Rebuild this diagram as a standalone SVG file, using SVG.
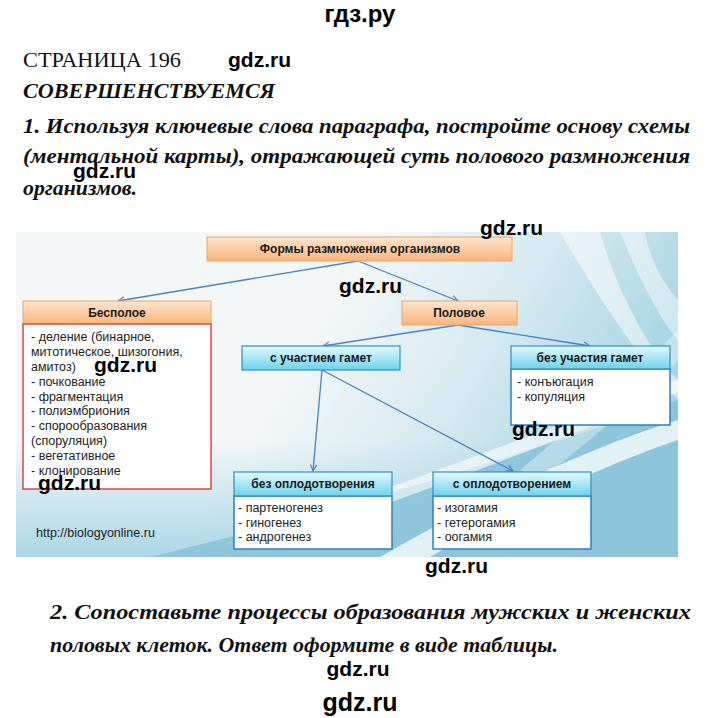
<svg xmlns="http://www.w3.org/2000/svg" width="720" height="718" viewBox="0 0 720 718">
<defs>
<style>
.ser{font-family:"Liberation Serif","Times New Roman",serif;fill:#111}
.bi{font-weight:bold;font-style:italic}
.wm{font-family:"Liberation Sans",Arial,sans-serif;font-weight:bold;fill:#000}
.hd{font-family:"Liberation Sans",Arial,sans-serif;font-weight:bold;font-size:12px;fill:#1a1a1a;text-anchor:middle}
.li{font-family:"Liberation Sans",Arial,sans-serif;font-size:12.5px;fill:#222}
.org{fill:url(#gOr);stroke:#f0a465;stroke-width:1}
.cy{fill:url(#gCy);stroke:#2f8fc0;stroke-width:1.2}
.lst{fill:#fff;stroke:#2f7fbf;stroke-width:1.5}
.red{fill:#fff;stroke:#d9534f;stroke-width:1.6}
.con{fill:none;stroke:#4a82c0;stroke-width:1.3;marker-end:url(#ar)}
</style>
<linearGradient id="gOr" x1="0" y1="0" x2="0" y2="1">
<stop offset="0" stop-color="#fde6cf"/><stop offset="1" stop-color="#f8b57c"/>
</linearGradient>
<linearGradient id="gCy" x1="0" y1="0" x2="0" y2="1">
<stop offset="0" stop-color="#e6f9fd"/><stop offset="1" stop-color="#6dd2ec"/>
</linearGradient>
<linearGradient id="gBg" x1="0" y1="0" x2="1" y2="0.3">
<stop offset="0" stop-color="#f6f7f8"/><stop offset="0.5" stop-color="#f3f7f8"/><stop offset="0.75" stop-color="#d6eaf1"/><stop offset="1" stop-color="#a9d5e5"/>
</linearGradient>
<linearGradient id="gBot" x1="0" y1="0" x2="0" y2="1">
<stop offset="0" stop-color="#a4d3e4" stop-opacity="0"/><stop offset="1" stop-color="#a4d3e4" stop-opacity="0.9"/>
</linearGradient>
<marker id="ar" viewBox="0 0 10 10" refX="9" refY="5" markerWidth="8" markerHeight="8" orient="auto-start-reverse" markerUnits="userSpaceOnUse">
<path d="M1,1 L9,5 L1,9" fill="none" stroke="#4a82c0" stroke-width="1.4"/>
</marker>
<clipPath id="clipBg"><rect x="16" y="232" width="662" height="325"/></clipPath>
</defs>
<rect width="720" height="718" fill="#fff"/>

<text class="wm" x="360" y="22" font-size="24" text-anchor="middle">гдз.ру</text>
<text class="ser" x="23" y="67" font-size="21" textLength="158" lengthAdjust="spacingAndGlyphs">СТРАНИЦА 196</text>
<text class="wm" x="228" y="67" font-size="21">gdz.ru</text>
<text class="ser bi" x="23" y="98" font-size="21" textLength="252" lengthAdjust="spacingAndGlyphs">СОВЕРШЕНСТВУЕМСЯ</text>
<text class="ser bi" x="23" y="133" font-size="21" textLength="667" lengthAdjust="spacingAndGlyphs">1. Используя ключевые слова параграфа, постройте основу схемы</text>
<text class="ser bi" x="23" y="163" font-size="21" textLength="667" lengthAdjust="spacingAndGlyphs">(ментальной карты), отражающей суть полового размножения</text>
<text class="wm" x="73" y="178" font-size="21">gdz.ru</text>
<text class="ser bi" x="23" y="195" font-size="21" textLength="114" lengthAdjust="spacingAndGlyphs">организмов.</text>

<g id="background" clip-path="url(#clipBg)">
<rect x="16" y="232" width="662" height="325" fill="url(#gBg)"/>
<rect x="16" y="440" width="662" height="117" fill="url(#gBot)"/>
<path d="M150,557 C300,520 480,470 678,400 L678,557 Z" fill="#86c1d7" opacity="0.8"/>
<path d="M380,557 C470,505 580,450 678,420 L678,440 C590,470 500,515 430,557 Z" fill="#ffffff" opacity="0.75"/>
<path d="M240,540 C360,500 520,440 678,380 L678,392 C520,455 370,512 260,548 Z" fill="#ffffff" opacity="0.6"/>
<path d="M560,232 C600,300 640,360 678,400 L678,380 C650,350 620,300 600,232 Z" fill="#ffffff" opacity="0.5"/>
<path d="M620,232 C640,280 660,320 678,340 L678,300 C665,285 650,262 645,232 Z" fill="#ffffff" opacity="0.45"/>
<path d="M520,470 C580,420 640,370 678,330 L678,360 C640,400 590,440 540,480 Z" fill="#ffffff" opacity="0.35"/>
</g>

<g id="connectors">
<line class="con" x1="358" y1="261" x2="118" y2="301"/>
<line class="con" x1="358" y1="261" x2="458" y2="301"/>
<line class="con" x1="458" y1="325" x2="323" y2="346"/>
<line class="con" x1="458" y1="325" x2="590" y2="346"/>
<line class="con" x1="322" y1="370" x2="313" y2="471"/>
<line class="con" x1="322" y1="370" x2="513" y2="471"/>
</g>

<g id="root">
<rect class="org" x="207" y="237" width="305" height="24"/>
<text class="hd" x="360" y="253">Формы размножения организмов</text>
</g>

<g id="asexual">
<rect class="org" x="23" y="301" width="188" height="23"/>
<text class="hd" x="117" y="317">Бесполое</text>
<rect class="red" x="23" y="324" width="188" height="165"/>
<text class="li" x="31" y="341">- деление (бинарное,</text>
<text class="li" x="31" y="356">митотическое, шизогония,</text>
<text class="li" x="31" y="370.5">амитоз)</text>
<text class="li" x="31" y="385.5">- почкование</text>
<text class="li" x="31" y="400.5">- фрагментация</text>
<text class="li" x="31" y="415">- полиэмбриония</text>
<text class="li" x="31" y="430">- спорообразования</text>
<text class="li" x="31" y="444.5">(споруляция)</text>
<text class="li" x="31" y="459.5">- вегетативное</text>
<text class="li" x="31" y="474.5">- клонирование</text>
</g>

<g id="sexual">
<rect class="org" x="402" y="301" width="115" height="24"/>
<text class="hd" x="459" y="317">Половое</text>
</g>

<g id="with-gametes">
<rect class="cy" x="242" y="346" width="158" height="24"/>
<text class="hd" x="321" y="362">с участием гамет</text>
</g>

<g id="without-gametes">
<rect class="lst" x="511" y="369" width="159" height="56"/>
<rect class="cy" x="511" y="346" width="159" height="23"/>
<text class="hd" x="590" y="362">без участия гамет</text>
<text class="li" x="517" y="386">- конъюгация</text>
<text class="li" x="517" y="401">- копуляция</text>
</g>

<g id="without-fertilization">
<rect class="lst" x="234" y="496" width="158" height="53"/>
<rect class="cy" x="234" y="472" width="158" height="24"/>
<text class="hd" x="313" y="488">без оплодотворения</text>
<text class="li" x="238" y="512">- партеногенез</text>
<text class="li" x="238" y="526.5">- гиногенез</text>
<text class="li" x="238" y="541">- андрогенез</text>
</g>

<g id="with-fertilization">
<rect class="lst" x="433" y="496" width="158" height="53"/>
<rect class="cy" x="433" y="472" width="158" height="24"/>
<text class="hd" x="512" y="488">с оплодотворением</text>
<text class="li" x="437" y="512">- изогамия</text>
<text class="li" x="437" y="526.5">- гетерогамия</text>
<text class="li" x="437" y="541">- оогамия</text>
</g>

<text class="li" x="36" y="537" font-size="11" fill="#333">http://biologyonline.ru</text>

<g id="watermarks">
<text class="wm" x="480" y="235" font-size="21">gdz.ru</text>
<text class="wm" x="339" y="293" font-size="21">gdz.ru</text>
<text class="wm" x="94" y="372" font-size="21">gdz.ru</text>
<text class="wm" x="512" y="436" font-size="21">gdz.ru</text>
<text class="wm" x="38" y="490" font-size="21">gdz.ru</text>
<text class="wm" x="425" y="573" font-size="21">gdz.ru</text>
</g>

<text class="ser bi" x="50" y="619" font-size="21" textLength="641" lengthAdjust="spacingAndGlyphs">2. Сопоставьте процессы образования мужских и женских</text>
<text class="ser bi" x="50" y="652" font-size="21" textLength="508" lengthAdjust="spacingAndGlyphs">половых клеток. Ответ оформите в виде таблицы.</text>
<text class="wm" x="358" y="676" font-size="21" text-anchor="middle">gdz.ru</text>
<text class="wm" x="360" y="711" font-size="25" text-anchor="middle">gdz.ru</text>
</svg>
